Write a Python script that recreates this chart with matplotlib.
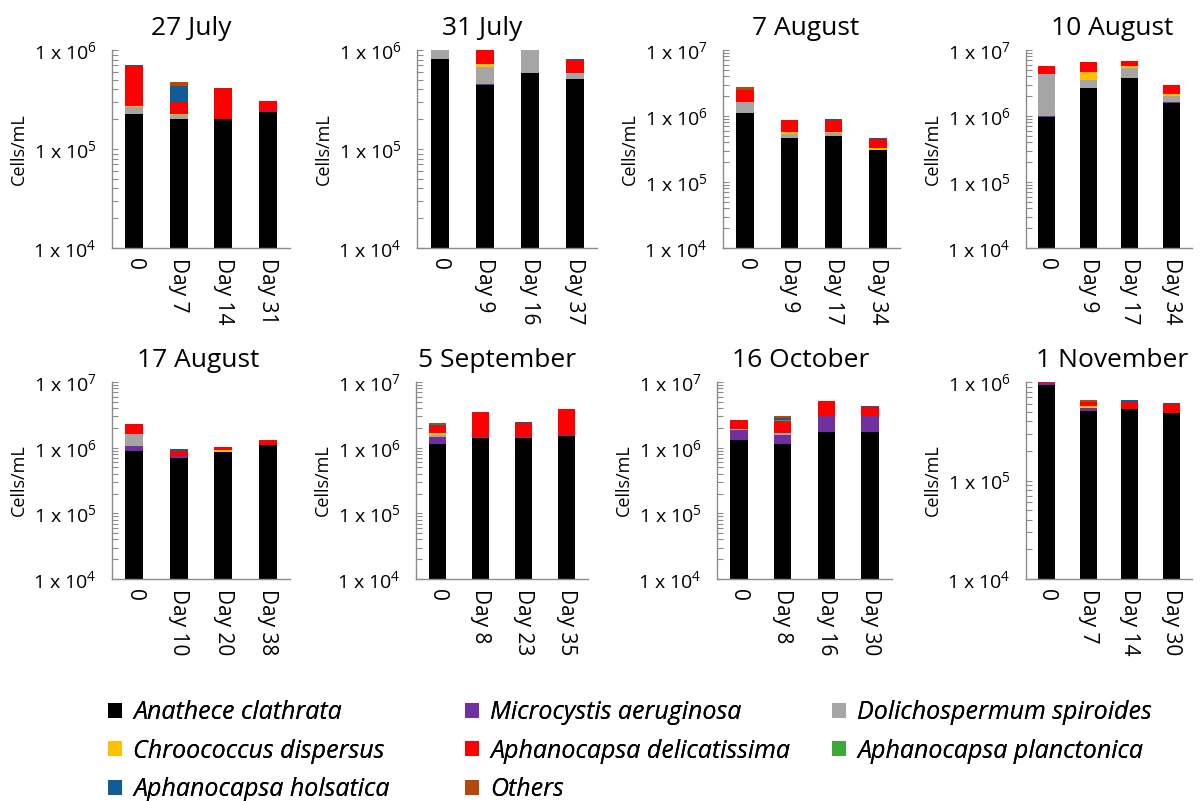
import matplotlib
matplotlib.use('Agg')
import matplotlib.pyplot as plt
from matplotlib.patches import Patch
from matplotlib.ticker import LogLocator, FixedLocator, NullFormatter
import numpy as np

plt.rcParams['font.family'] = ['Open Sans', 'DejaVu Sans']
plt.rcParams['mathtext.fontset'] = 'custom'
plt.rcParams['mathtext.rm'] = 'Open Sans'
plt.rcParams['mathtext.it'] = 'Open Sans:italic'

# sampling dates (panel titles) and x labels per panel
dates = ['27 July', '31 July', '7 August', '10 August',
         '17 August', '5 September', '16 October', '1 November']
days = [['0', 'Day 7', 'Day 14', 'Day 31'],
        ['0', 'Day 9', 'Day 16', 'Day 37'],
        ['0', 'Day 9', 'Day 17', 'Day 34'],
        ['0', 'Day 9', 'Day 17', 'Day 34'],
        ['0', 'Day 10', 'Day 20', 'Day 38'],
        ['0', 'Day 8', 'Day 23', 'Day 35'],
        ['0', 'Day 8', 'Day 16', 'Day 30'],
        ['0', 'Day 7', 'Day 14', 'Day 30']]
ymax = [1e6, 1e6, 1e7, 1e7, 1e7, 1e7, 1e7, 1e6]

# cells/mL for each species, one row of 4 samples per panel
anathece = [[2.24e5, 2.02e5, 2.02e5, 2.38e5],
            [8.04e5, 4.47e5, 5.80e5, 5.06e5],
            [1.11e6, 4.65e5, 5.04e5, 3.01e5],
            [0.98e6, 2.64e6, 3.74e6, 1.60e6],
            [9.0e5, 6.97e5, 8.5e5, 1.11e6],
            [1.13e6, 1.38e6, 1.38e6, 1.53e6],
            [1.30e6, 1.13e6, 1.74e6, 1.74e6],
            [9.33e5, 5.09e5, 5.33e5, 4.82e5]]
microcystis = [[0, 0, 0, 4e3],
               [0, 5e3, 5e3, 0],
               [0, 0, 0, 0],
               [3e4, 5e4, 5e4, 3e4],
               [1.5e5, 4.1e4, 0, 0],
               [3.3e5, 6e4, 7e4, 5e4],
               [5.9e5, 4.4e5, 1.27e6, 1.34e6],
               [3.7e4, 3.2e4, 5e3, 0]]
dolichospermum = [[4.0e4, 1.7e4, 0, 0],
                  [1.96e5, 2.21e5, 4.15e5, 7.5e4],
                  [5.3e5, 7.5e4, 4.9e4, 0],
                  [3.35e6, 8.8e5, 1.52e6, 3.7e5],
                  [5.8e5, 0, 0, 0],
                  [1.1e5, 0, 0, 0],
                  [4e4, 1.1e5, 0, 0],
                  [0, 0, 0, 0]]
chroococcus = [[8e3, 5e3, 0, 0],
               [0, 5.5e4, 0, 0],
               [0, 3.3e4, 2e4, 3.0e4],
               [0, 1.04e6, 4.6e5, 1.9e5],
               [0, 2e4, 8e4, 0],
               [1.3e5, 0, 0, 0],
               [0, 0, 0, 0],
               [0, 3.4e4, 0, 0]]
delicatissima = [[4.22e5, 7.6e4, 2.11e5, 6.5e4],
                 [0, 2.72e5, 0, 2.09e5],
                 [8.2e5, 2.87e5, 3.07e5, 1.18e5],
                 [1.33e6, 1.93e6, 1.1e6, 7.1e5],
                 [6.6e5, 1.22e5, 1.1e5, 2.0e5],
                 [4.2e5, 2.10e6, 9.3e5, 2.26e6],
                 [7.5e5, 8.8e5, 2.13e6, 1.09e6],
                 [3.0e4, 4.6e4, 9.3e4, 1.16e5]]
planctonica = [[0, 0, 0, 0],
               [0, 0, 0, 0],
               [0, 0, 0, 0],
               [0, 0, 0, 0],
               [0, 0, 0, 0],
               [0, 0, 0, 0],
               [0, 1.1e5, 0, 0],
               [0, 0, 0, 0]]
holsatica = [[5e3, 1.36e5, 0, 0],
             [0, 0, 0, 2.7e4],
             [0, 0, 2e4, 2.1e4],
             [0, 0, 0, 5e4],
             [0, 7e4, 0, 0],
             [1.3e5, 0, 1.2e5, 0],
             [0, 2.0e5, 0, 1.0e5],
             [0, 1.0e4, 2.9e4, 1.4e4]]
others = [[0, 4.3e4, 5e3, 0],
          [0, 0, 0, 0],
          [2.7e5, 0, 0, 0],
          [0, 1.0e5, 0, 0],
          [0, 0, 0, 0],
          [1.1e5, 0, 0, 0],
          [0, 1.8e5, 5e4, 0],
          [0, 2.5e4, 0, 0]]

species = ['Anathece clathrata', 'Microcystis aeruginosa', 'Dolichospermum spiroides',
           'Chroococcus dispersus', 'Aphanocapsa delicatissima', 'Aphanocapsa planctonica',
           'Aphanocapsa holsatica', 'Others']
series = [anathece, microcystis, dolichospermum, chroococcus,
          delicatissima, planctonica, holsatica, others]
colors = ['#000000', '#7030A0', '#A5A5A5', '#FFC000',
          '#FF0000', '#3AA935', '#0F5C96', '#B5480A']

# axes boxes in pixels: left, right, top, bottom
boxes = [(112, 290, 50, 248), (417, 597, 50, 248), (723, 900, 50, 248), (1026, 1192, 50, 248),
         (112, 290, 382, 579), (416, 588, 382, 579), (717, 892, 382, 579), (1026, 1192, 382, 579)]
# title centres (pixels), Excel centres them on the whole chart area
title_x = [191, 482, 806, 1112, 198, 497, 801, 1112]

W, H = 1201, 801
fig = plt.figure(figsize=(W / 100, H / 100), dpi=100)

axis_grey = '#8C8C8C'
for i in range(8):
    l, r, t, b = boxes[i]
    ax = fig.add_axes([l / W, 1 - b / H, (r - l) / W, (b - t) / H])
    x = np.arange(4)
    cum = np.zeros(4)
    for vals, c in zip(series, colors):
        h = np.array(vals[i], dtype=float)
        ax.bar(x, h, bottom=cum, width=0.4, color=c, linewidth=0)
        cum = cum + h
    ax.set_yscale('log')
    ax.set_ylim(1e4, ymax[i])
    ax.set_xlim(-0.5, 3.5)
    decades = np.arange(4, int(round(np.log10(ymax[i]))) + 1)
    ax.yaxis.set_major_locator(FixedLocator(10.0 ** decades))
    ax.set_yticklabels([r'1 x 10$^{%d}$' % d for d in decades])
    ax.yaxis.set_minor_locator(LogLocator(base=10, subs=np.arange(2, 10)))
    ax.yaxis.set_minor_formatter(NullFormatter())
    ax.tick_params(axis='y', which='both', direction='in', length=4, width=0.8,
                   color=axis_grey, labelsize=14, pad=11)
    ax.set_xticks(x)
    ax.set_xticklabels(days[i], rotation=-90, fontsize=15)
    ax.tick_params(axis='x', length=0, pad=7)
    for s in ['top', 'right']:
        ax.spines[s].set_visible(False)
    for s in ['left', 'bottom']:
        ax.spines[s].set_color(axis_grey)
        ax.spines[s].set_linewidth(1)
    ax.set_ylabel('Cells/mL', fontsize=13, labelpad=4)
    ax.set_title(dates[i], fontsize=19, pad=11, x=(title_x[i] - l) / (r - l))

handles = [Patch(facecolor=c, edgecolor='none') for c in colors]
# legend laid out row by row, one legend per column
columns = [[0, 3, 6], [1, 4, 7], [2, 5]]
col_x = [108, 465, 832]
for idx, cx in zip(columns, col_x):
    leg = fig.legend([handles[k] for k in idx], [species[k] for k in idx],
                     loc='upper left', bbox_to_anchor=(cx / W, 1 - 700 / H),
                     frameon=False, prop={'style': 'italic', 'size': 18},
                     handlelength=0.55, handleheight=0.55, handletextpad=0.45,
                     labelspacing=0.55, borderpad=0, borderaxespad=0)
    fig.add_artist(leg)

fig.savefig('out.png', dpi=100)
